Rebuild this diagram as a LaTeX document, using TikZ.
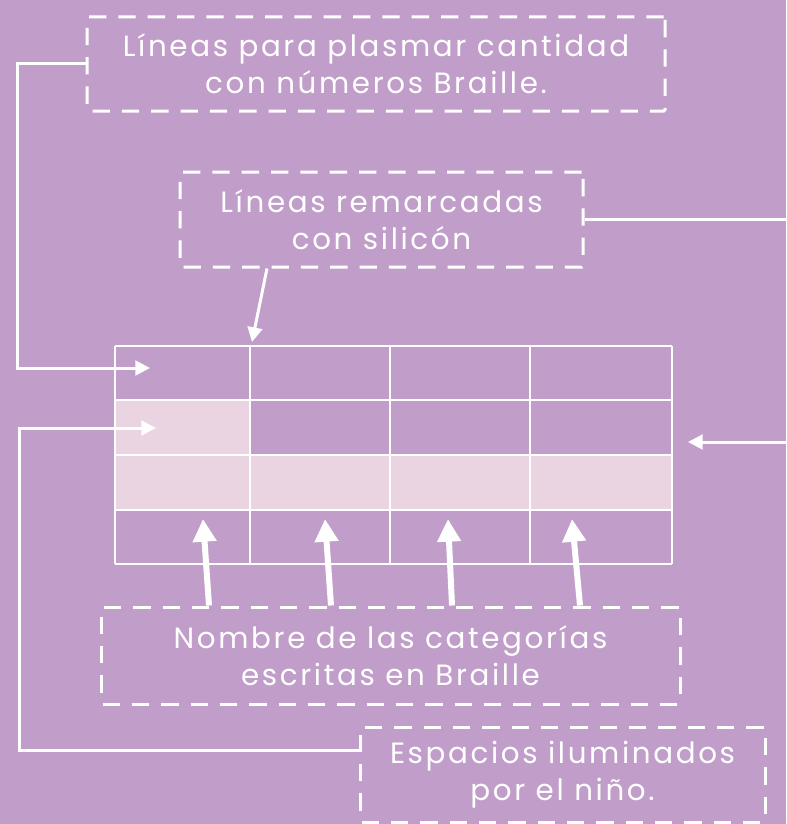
\documentclass[tikz,border=0pt]{standalone}
\usepackage{fontspec}
\setmainfont{Poppins}[LetterSpace=9]
\usetikzlibrary{arrows.meta,positioning}
\definecolor{lila}{RGB}{193,158,201}
\definecolor{rosa}{RGB}{234,212,225}
\tikzset{%
  nota/.style    = {shape=rectangle, draw=white, line width=2.25pt,%
                    dash pattern=on 13pt off 9pt, rounded corners=1pt,%
                    text=white, align=center, inner sep=0pt,%
                    font=\fontsize{22}{27.75}\selectfont},%
  flecha/.style  = {draw=white, line width=2.25pt,%
                    -{Triangle[length=11pt,width=11pt]}},%
  gruesa/.style  = {draw=white, line width=4.5pt,%
                    -{Triangle[length=17pt,width=17pt]}},%
  rejilla/.style = {draw=white, line width=1.5pt}%
}
\begin{document}
\begin{tikzpicture}[x=0.75pt, y=-0.75pt]
  \useasboundingbox (0,0) rectangle (786,824);
  \fill[lila] (0,0) rectangle (786,824);

  % tabla
  \fill[rosa] (115,400) rectangle (250,455);
  \fill[rosa] (115,455) rectangle (672,510);
  \foreach \x in {115,250,390,530,672}
    \draw[rejilla] (\x,346) -- (\x,564);
  \foreach \y in {346,400,455,510,564}
    \draw[rejilla] (115,\y) -- (672,\y);

  % notas
  \node[nota, minimum width=433.5pt, minimum height=70.5pt]
    (cantidad) at (376,64) {Líneas para plasmar cantidad\\con números Braille.};
  \node[nota, minimum width=302.25pt, minimum height=71.25pt]
    (silicon) at (381.5,219.5) {Líneas remarcadas\\con silicón};
  \node[nota, minimum width=434.25pt, minimum height=72.75pt]
    (categorias) at (390.5,655.5) {Nombre de las categorías\\escritas en Braille};
  \node[nota, minimum width=303.75pt, minimum height=71.25pt]
    (espacios) at (562.5,774.5) {Espacios iluminados\\por el niño.};

  % puntas
  \coordinate (filaUno)  at (150,368);
  \coordinate (borde)    at (252,342);
  \coordinate (lado)     at (688,442);
  \coordinate (filaDos)  at (156,428);

  \draw[flecha] (cantidad.west) -| (17,368) -- (filaUno);
  \draw[flecha] (silicon.south -| 267,0) -- (borde);
  \draw[flecha] (silicon.east) -- (787,219.5) |- (lado);
  \draw[flecha] (espacios.west |- 0,750) -| (19,428) -- (filaDos);

  \foreach \a/\b in {209/203, 331/325, 452/448, 580/572}
    \draw[gruesa] (categorias.north -| \a,0) -- (\b,519);
\end{tikzpicture}
\end{document}
